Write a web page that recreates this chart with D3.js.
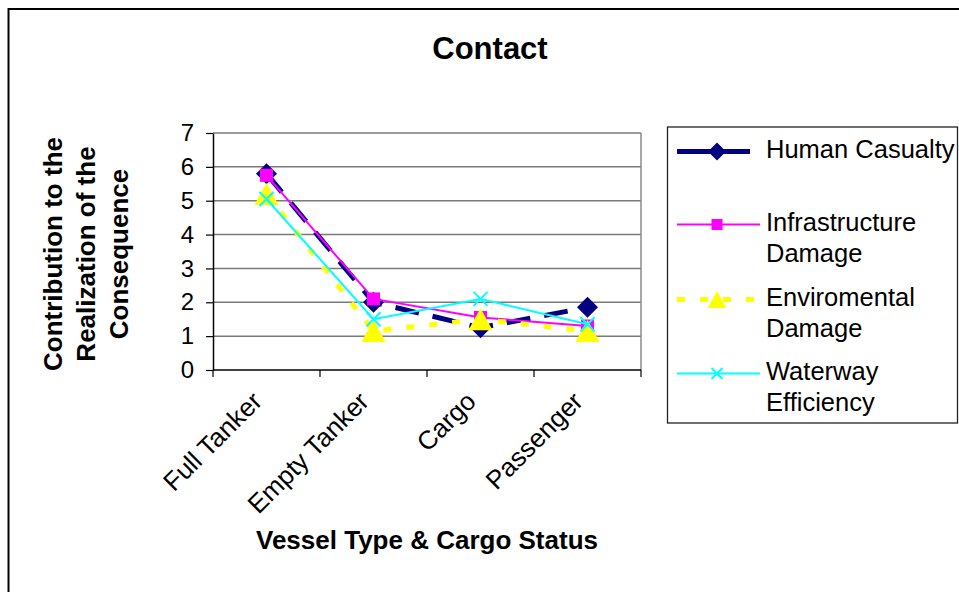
<!DOCTYPE html>
<html><head><meta charset="utf-8">
<script src="https://cdn.jsdelivr.net/npm/d3@7"></script>
<style>body{margin:0;background:#fff}svg{display:block}text{font-family:"Liberation Sans",Arial,Helvetica,sans-serif;fill:#000}</style>
</head><body><svg id="c" width="959" height="592"></svg>
<script>
const categories = ["Full Tanker", "Empty Tanker", "Cargo", "Passenger"];
const humanCasualty = [5.8, 2.0, 1.25, 1.85];
const infrastructureDamage = [5.75, 2.1, 1.55, 1.3];
const enviromentalDamage = [5.2, 1.15, 1.5, 1.15];
const waterwayEfficiency = [5.05, 1.5, 2.1, 1.35];
const yTicks = [0, 1, 2, 3, 4, 5, 6, 7];
const seriesLabels = [["Human Casualty"], ["Infrastructure", "Damage"], ["Enviromental", "Damage"], ["Waterway", "Efficiency"]];
const titleText = "Contact";
const xTitle = "Vessel Type & Cargo Status";
const yTitle = ["Contribution to the", "Realization of the", "Consequence"];

const series = [
  {name: seriesLabels[0], values: humanCasualty, color: "#000080", width: 5, dash: "24,14", marker: "diamond"},
  {name: seriesLabels[1], values: infrastructureDamage, color: "#FF00FF", width: 2, dash: null, marker: "square"},
  {name: seriesLabels[2], values: enviromentalDamage, color: "#FFFF00", width: 5, dash: "8,15", marker: "triangle"},
  {name: seriesLabels[3], values: waterwayEfficiency, color: "#00FFFF", width: 2, dash: null, marker: "x"}
];

const svg = d3.select("#c");
// outer chart border
svg.append("rect").attr("x", 8.5).attr("y", 9).attr("width", 980).attr("height", 620)
  .attr("fill", "none").attr("stroke", "#000").attr("stroke-width", 2);

const x = d3.scaleBand().domain(categories).range([213, 641]);
const y = d3.scaleLinear().domain([0, 7]).range([370, 133]);
const cx = c => x(c) + x.bandwidth() / 2;

// gridlines
svg.append("g").selectAll("line").data(yTicks.filter(t => t > 0)).join("line")
  .attr("x1", 213).attr("x2", 641).attr("y1", d => y(d)).attr("y2", d => y(d))
  .attr("stroke", "#7a7a7a").attr("stroke-width", 1.5);
// right border of plot
svg.append("line").attr("x1", 641).attr("x2", 641).attr("y1", y(7)).attr("y2", y(0))
  .attr("stroke", "#8a8a8a").attr("stroke-width", 1.5);

// y axis
const ya = svg.append("g").attr("transform", "translate(213,0)")
  .call(d3.axisLeft(y).tickValues(yTicks).tickFormat(d3.format("d")).tickSizeInner(7).tickSizeOuter(0).tickPadding(12));
ya.select(".domain").attr("stroke", "#000").attr("stroke-width", 1.5);
ya.selectAll(".tick line").attr("stroke", "#000").attr("stroke-width", 1.2);
ya.selectAll(".tick text").attr("font-size", 24).attr("font-family", "Liberation Sans, Arial, sans-serif");

// x axis line and ticks at category boundaries
svg.append("line").attr("x1", 213).attr("x2", 641).attr("y1", y(0)).attr("y2", y(0))
  .attr("stroke", "#000").attr("stroke-width", 1.5);
const bounds = categories.map(c => x(c)).concat([x.range()[1]]);
svg.append("g").selectAll("line").data(bounds).join("line")
  .attr("x1", d => d).attr("x2", d => d).attr("y1", y(0)).attr("y2", y(0) + 7)
  .attr("stroke", "#000").attr("stroke-width", 1.2);
svg.append("g").selectAll("text").data(categories).join("text")
  .attr("transform", d => `translate(${cx(d) - 3},${y(0) + 33}) rotate(-45)`)
  .attr("text-anchor", "end").attr("font-size", 26).text(d => d);

// series lines & markers
const line = d3.line().x((d, i) => cx(categories[i])).y(d => y(d));
function marker(g, type, color, s) {
  if (type === "diamond") g.append("path").attr("d", `M0,${-s}L${s},0L0,${s}L${-s},0Z`).attr("fill", color);
  else if (type === "square") g.append("rect").attr("x", -s).attr("y", -s).attr("width", 2 * s).attr("height", 2 * s).attr("fill", color);
  else if (type === "triangle") g.append("path").attr("d", `M0,${-s}L${s * 1.1},${s}L${-s * 1.1},${s}Z`).attr("fill", color);
  else if (type === "x") g.append("path").attr("d", `M${-s},${-s}L${s},${s}M${-s},${s}L${s},${-s}`).attr("stroke", color).attr("stroke-width", 2).attr("fill", "none");
}
const sizes = {diamond: 10.5, square: 6.5, triangle: 11, x: 7};
series.forEach(s => {
  svg.append("path").datum(s.values).attr("d", line).attr("fill", "none")
    .attr("stroke", s.color).attr("stroke-width", s.width)
    .attr("stroke-dasharray", s.dash);
  s.values.forEach((v, i) => {
    const g = svg.append("g").attr("transform", `translate(${cx(categories[i])},${y(v)})`);
    marker(g, s.marker, s.color, sizes[s.marker]);
  });
});

// title
svg.append("text").attr("x", 490).attr("y", 59).attr("text-anchor", "middle")
  .attr("font-size", 31).attr("font-weight", "bold").text(titleText);
// x title
svg.append("text").attr("x", 427).attr("y", 549).attr("text-anchor", "middle")
  .attr("font-size", 26).attr("font-weight", "bold").text(xTitle);
// y title
const yb = [62, 95, 128];
yTitle.forEach((t, i) => {
  svg.append("text").attr("transform", `translate(${yb[i]},254) rotate(-90)`).attr("text-anchor", "middle")
    .attr("font-size", 26).attr("font-weight", "bold").text(t);
});

// legend
const lg = svg.append("g");
lg.append("rect").attr("x", 667.5).attr("y", 127).attr("width", 290).attr("height", 296)
  .attr("fill", "#fff").attr("stroke", "#222").attr("stroke-width", 1.3);
const legY = [151.5, 224.5, 299.5, 373.5];
const legSizes = {diamond: 9, square: 5.5, triangle: 8.5, x: 5.5};
series.forEach((s, i) => {
  const ly = legY[i];
  lg.append("line").attr("x1", 677).attr("x2", i === 0 ? 750 : 760).attr("y1", ly).attr("y2", ly)
    .attr("stroke", s.color).attr("stroke-width", s.width)
    .attr("stroke-dasharray", i === 2 ? "8,15" : null);
  const g = lg.append("g").attr("transform", `translate(717,${ly})`);
  marker(g, s.marker, s.color, legSizes[s.marker]);
  s.name.forEach((t, j) => {
    lg.append("text").attr("x", 766).attr("y", ly + 6 + j * 31.5).attr("font-size", 25.5).text(t);
  });
});
</script></body></html>
